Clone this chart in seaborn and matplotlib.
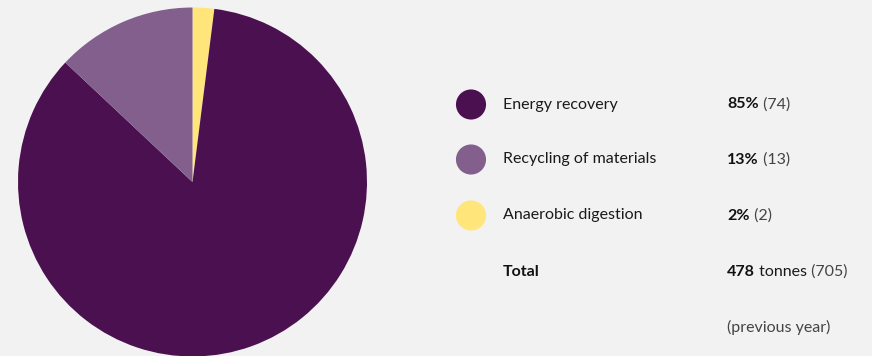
import matplotlib
matplotlib.use("Agg")
import matplotlib.pyplot as plt
import seaborn as sns

# Waste treatment breakdown
categories = ["Energy recovery", "Recycling of materials", "Anaerobic digestion"]
shares = [85, 13, 2]            # % of total this year
previous = [74, 13, 2]          # previous year's figure
total_tonnes = 478
total_previous = 705
colors = ["#4A1050", "#835F8E", "#FFE57A"]

bg = "#F2F2F2"
sns.set_theme(style="white", rc={"figure.facecolor": bg, "axes.facecolor": bg})
plt.rcParams["font.family"] = ["Lato", "DejaVu Sans"]

W, H = 872, 356
fig = plt.figure(figsize=(W / 100, H / 100), dpi=100)

# Pie: yellow first clockwise from the top, then dark, then light purple
cx, cy, r = 192.5, 182, 174.5
pie_ax = fig.add_axes([(cx - r) / W, (H - cy - r) / H, 2 * r / W, 2 * r / H])
order = [2, 0, 1]
pie_ax.pie([shares[i] for i in order], colors=[colors[i] for i in order],
           startangle=90, counterclock=False, radius=1,
           wedgeprops=dict(linewidth=0))
pie_ax.set_xlim(-1, 1)
pie_ax.set_ylim(-1, 1)
pie_ax.set_aspect("equal")
pie_ax.axis("off")

# Legend panel in pixel coordinates
leg = fig.add_axes([0, 0, 1, 1])
leg.set_xlim(0, W)
leg.set_ylim(H, 0)
leg.axis("off")
leg.patch.set_alpha(0)

fs = 11.5
rows_y = [104.5, 159.5, 215.5]
x_dot, x_lab, x_val = 471, 503, 727
leg.scatter([x_dot] * 3, rows_y, s=470, c=colors, linewidths=0, zorder=3)


def mixed(x, y, parts):
    """Draw consecutive text pieces on one baseline."""
    prev = None
    for txt, weight, col in parts:
        if prev is None:
            prev = leg.text(x, y, txt, fontsize=fs, fontweight=weight,
                            color=col, va="center", ha="left")
        else:
            prev = leg.annotate(txt, xy=(1, 0), xycoords=prev, fontsize=fs,
                                fontweight=weight, color=col,
                                va="bottom", ha="left")
    return prev


for cat, s, p, y in zip(categories, shares, previous, rows_y):
    leg.text(x_lab, y, cat, fontsize=fs, color="#1a1a1a", va="center", ha="left")
    mixed(x_val, y, [(f"{s}%", "bold", "#111111"), (f" ({p})", "normal", "#444444")])

leg.text(x_lab, 271.5, "Total", fontsize=fs, fontweight="bold",
         color="#111111", va="center", ha="left")
mixed(x_val, 271.5, [(f"{total_tonnes}", "bold", "#111111"),
                     (" tonnes", "normal", "#1a1a1a"),
                     (f" ({total_previous})", "normal", "#444444")])
leg.text(x_val, 327.5, "(previous year)", fontsize=fs, color="#444444",
         va="center", ha="left")

fig.savefig("out.png", dpi=100, facecolor=bg)
